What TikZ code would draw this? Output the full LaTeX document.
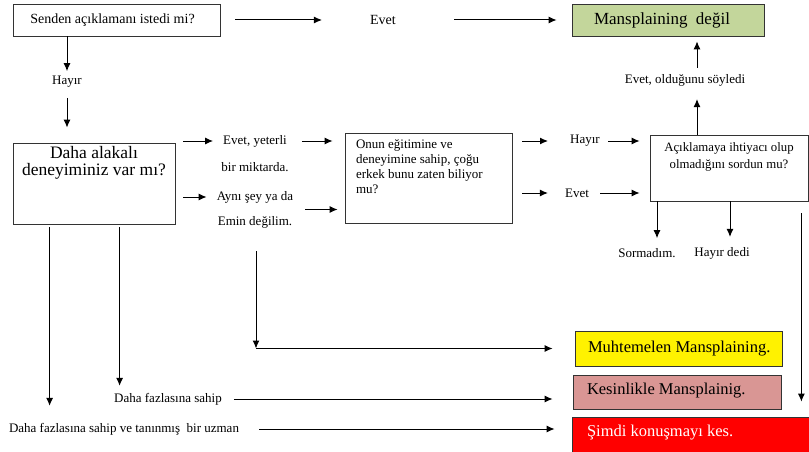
\documentclass[tikz,border=0pt]{standalone}
\usepackage{fontspec}
\setmainfont{Liberation Serif}
\usetikzlibrary{arrows.meta}
\definecolor{okgreen}{HTML}{C3D69B}
\definecolor{sure}{HTML}{D99694}

\begin{document}
\begin{tikzpicture}[x=1pt, y=-1pt, >={Latex[length=8pt,width=7pt]}]

    \tikzstyle{box}=[draw=black!80, line width=0.8pt, inner sep=0pt];
    \tikzstyle{lbl}=[inner sep=0pt, font=\fontsize{13}{15}\selectfont];
    \tikzstyle{arr}=[->, line width=1pt];
    \tikzstyle{result}=[box, font=\fontsize{16.5}{19}\selectfont];

    \useasboundingbox (0,0) rectangle (809,452);

    % questions
    \node[box, minimum width=207, minimum height=32, font=\fontsize{14}{16}\selectfont] (q1) at (116.5,20) {\hspace*{-8pt}Senden açıklamanı istedi mi?};
    \node[box, font=\fontsize{17.5}{17}\selectfont] (q2) at (94,183.5) {\parbox[c][81pt][t]{162pt}{\centering\vspace{3pt}Daha alakalı\\deneyiminiz var mı?}};
    \node[box, font=\fontsize{13}{15}\selectfont] (onun) at (428.5,178) {\parbox[c][90pt][t]{167pt}{\raggedright\vspace{7pt}\hspace*{11pt}\parbox[t]{155pt}{Onun eğitimine ve\\deneyimine sahip, çoğu\\erkek bunu zaten biliyor\\mu?}}};
    \node[box, font=\fontsize{12.8}{17}\selectfont] (acik) at (729,168) {\parbox[c][66pt][t]{158pt}{\centering\vspace{8pt}Açıklamaya ihtiyacı olup\\olmadığını sordun mu?}};

    % results
    \node[result, fill=okgreen, minimum width=192, minimum height=32, font=\fontsize{17}{19}\selectfont] (ok) at (668,20) {\hspace*{-12pt}Mansplaining\ \ değil};
    \node[result, fill=yellow, minimum width=207, minimum height=35] (maybe) at (678.5,348.5) {\makebox[207pt][l]{\hspace*{13pt}Muhtemelen Mansplaining.}};
    \node[result, fill=sure, minimum width=208, minimum height=34, text depth=7pt] (sure) at (677,392) {\makebox[208pt][l]{\hspace*{14pt}Kesinlikle Mansplainig.}};
    \node[result, fill=red, text=white, minimum width=237, minimum height=35, text depth=7pt] (stop) at (690.5,434.5) {\makebox[237pt][l]{\hspace*{15pt}Şimdi konuşmayı kes.}};

    % answers
    \node[lbl, font=\fontsize{14}{16}\selectfont] (evet1) at (383,20) {Evet};
    \node[lbl] (hayir1) at (67,82) {Hayır};
    \node[lbl] (yeterli1) at (255,141) {Evet, yeterli};
    \node[lbl] (yeterli2) at (255,167) {bir miktarda.};
    \node[lbl] (ayni1) at (255,197) {Aynı şey ya da};
    \node[lbl] (ayni2) at (255,222) {Emin değilim.};
    \node[lbl] (hayir2) at (585,141) {Hayır};
    \node[lbl] (evet2) at (577,193) {Evet};
    \node[lbl] (soyledi) at (685,80) {Evet, olduğunu söyledi};
    \node[lbl] (sormadim) at (647,253) {Sormadım.};
    \node[lbl] (dedi) at (722,253) {Hayır dedi};
    \node[lbl] (fazla1) at (168,399) {Daha fazlasına sahip};
    \node[lbl] (fazla2) at (124,429) {Daha fazlasına sahip ve tanınmış\ \ bir uzman};

    \path (ayni1) -- coordinate[pos=0.5] (aynimid) (ayni2);

    % top row
    \draw[arr, shorten <=15, shorten >=48] (q1.east |- evet1) -- (evet1.west);
    \draw[arr, shorten <=58, shorten >=15] (evet1.east) -- (ok.west |- evet1);
    \draw[arr, shorten >=5] (q1.south -| hayir1) -- (hayir1.north);
    \draw[arr, shorten <=10, shorten >=15] (hayir1.south) -- (hayir1 |- q2.north);

    % middle
    \draw[arr, shorten <=8, shorten >=10] (q2.east |- yeterli1) -- (yeterli1.west);
    \draw[arr, shorten <=8, shorten >=10] (q2.east |- ayni1) -- (ayni1.west);
    \draw[arr, shorten <=15, shorten >=12] (yeterli1.east) -- (onun.west |- yeterli1);
    \draw[arr, shorten <=50, shorten >=7] (aynimid) -- (aynimid -| onun.west);
    \draw[arr, shorten <=10, shorten >=22] (onun.east |- hayir2) -- (hayir2.west);
    \draw[arr, shorten <=10, shorten >=17] (onun.east |- evet2) -- (evet2.west);
    \draw[arr, shorten <=8, shorten >=10] (hayir2.east) -- (acik.west |- hayir2);
    \draw[arr, shorten <=11, shorten >=10] (evet2.east) -- (acik.west |- evet2);
    \draw[arr, shorten >=13] ([xshift=12]soyledi.south |- acik.north) -- ([xshift=12]soyledi.south);
    \draw[arr, shorten <=6, shorten >=5] ([xshift=12]soyledi.north) -- ([xshift=12]soyledi.north |- ok.south);
    \draw[arr, shorten >=10] ([xshift=10]sormadim.north |- acik.south) -- ([xshift=10]sormadim.north);
    \draw[arr, shorten >=10] ([xshift=8]dedi.north |- acik.south) -- ([xshift=8]dedi.north);
    \draw[arr, shorten <=12, shorten >=15] ([xshift=-7]acik.south east) -- ([xshift=-7]acik.south east |- stop.north);

    % bottom
    \draw[arr, shorten <=3, shorten >=17] ([xshift=37]q2.south west) -- ([xshift=37]q2.south west |- fazla2.north);
    \draw[arr, shorten <=3, shorten >=7] ([xshift=107]q2.south west) -- ([xshift=107]q2.south west |- fazla1.north);
    \draw[arr, shorten <=23] ([xshift=1]ayni2.south) -- ([xshift=1]ayni2.south |- maybe.west);
    \draw[arr, shorten >=22] ([xshift=1]ayni2.south |- maybe.west) -- (maybe.west);
    \draw[arr, shorten <=12, shorten >=20] (fazla1.east) -- (sure.west |- fazla1);
    \draw[arr, shorten <=20, shorten >=17] (fazla2.east) -- (stop.west |- fazla2);
\end{tikzpicture}
\end{document}
